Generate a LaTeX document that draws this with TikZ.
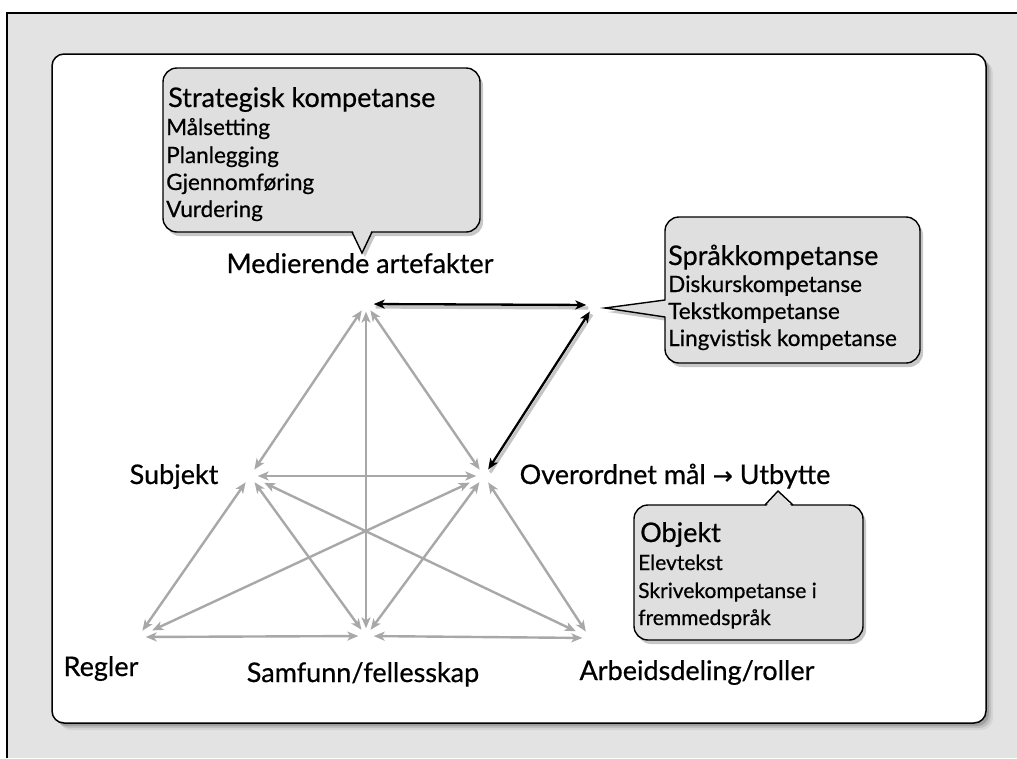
\documentclass[tikz,border=0pt]{standalone}
\usepackage{fontspec}
\setmainfont{Lato}[FakeBold=0.6]
\newfontfamily\symbolfont{DejaVu Sans}[FakeBold=0.8]
\usetikzlibrary{arrows.meta}
\definecolor{bggray}{RGB}{227,227,227}
\definecolor{boxgray}{RGB}{223,223,223}
\definecolor{edgegray}{RGB}{168,168,168}
\begin{document}
\begin{tikzpicture}[x=1pt,y=-1pt,
  vertex/.style={circle,inner sep=0pt,minimum size=15pt},
  relation/.style={draw=edgegray,line width=2.4pt,{Stealth[length=11pt,width=9pt,inset=3pt]}-{Stealth[length=11pt,width=9pt,inset=3pt]}},
  longrel/.style={relation,shorten <=8pt,shorten >=8pt},
  keylink/.style={draw=black,line width=2.3pt,{Stealth[length=11pt,width=9pt,inset=3pt]}-{Stealth[length=11pt,width=9pt,inset=3pt]}},
  keyshadow/.style={draw=black!45,opacity=0.5,line width=3.2pt,transform canvas={xshift=2pt,yshift=-3pt}},
  vlabel/.style={inner sep=0pt,anchor=base,font=\fontsize{27}{31}\selectfont},
  headtext/.style={inner sep=0pt,anchor=base west,font=\fontsize{27}{31}\selectfont},
  itemtext/.style={inner sep=0pt,anchor=base west,font=\fontsize{22.5}{27}\selectfont},
  smallitem/.style={inner sep=0pt,anchor=base west,font=\fontsize{21}{25}\selectfont},
  callbox/.style={draw=black,line width=1.4pt,fill=boxgray,rounded corners=14pt},
  callshadow/.style={fill=black,opacity=0.22,rounded corners=14pt},
  pointerline/.style={draw=black,line width=1.4pt,line join=miter},
]
\useasboundingbox (0,0) rectangle (1017,758);

% page background with its frame
\fill[bggray] (7,13) rectangle (1017,758);
\draw[black,line width=1.2pt] (7,758) -- (7,13) -- (1017,13);

% white panel with soft shadow
\foreach \d/\o in {7/0.06,5/0.10,3/0.16}
  \fill[black,opacity=\o,rounded corners=12pt,xshift=\d pt,yshift=-\d pt] (52,54) rectangle (986,723);
\draw[black,line width=1.5pt,fill=white,rounded corners=12pt] (52,54) rectangle (986,723);

% ---- callout: strategic competence
\fill[callshadow,xshift=3pt,yshift=-4pt] (163,68) rectangle (480,232);
\fill[black,opacity=0.22,xshift=3pt,yshift=-4pt] (352,232) -- (362,253) -- (372,232) -- cycle;
\draw[callbox] (163,68) rectangle (480,232);
\fill[boxgray] (352,229) -- (362,253) -- (372,229) -- cycle;
\draw[pointerline] (352,232) -- (362,253) -- (372,232);
\node[headtext] (strathead) at (168,107) {Strategisk kompetanse};
\node[itemtext] (strat1) at (166,135) {Målsetting};
\node[itemtext] (strat2) at (166,163) {Planlegging};
\node[itemtext] (strat3) at (166,190) {Gjennomføring};
\node[itemtext] (strat4) at (166,217) {Vurdering};

% ---- callout: language competence
\fill[callshadow,xshift=3pt,yshift=-4pt] (665,217) rectangle (920,363);
\fill[black,opacity=0.22,xshift=3pt,yshift=-4pt] (665,300) -- (605,308) -- (665,317) -- cycle;
\draw[callbox] (665,217) rectangle (920,363);
\fill[boxgray] (668,300) -- (605,308) -- (668,317) -- cycle;
\draw[pointerline] (665,300) -- (605,308) -- (665,317);
\node[headtext] (sprakhead) at (668,265) {Språkkompetanse};
\node[itemtext] (sprak1) at (668,292) {Diskurskompetanse};
\node[itemtext] (sprak2) at (668,319) {Tekstkompetanse};
\node[itemtext] (sprak3) at (668,346) {Lingvistisk kompetanse};

% ---- callout: object
\fill[callshadow,xshift=3pt,yshift=-4pt] (634,505) rectangle (863,640);
\draw[callbox] (634,505) rectangle (863,640);
\fill[boxgray] (765,508) -- (778,491) -- (793,508) -- cycle;
\draw[pointerline] (765,505) -- (778,491) -- (793,505);
\node[headtext] (objhead) at (640,542) {Objekt};
\node[smallitem] (obj1) at (638,570) {Elevtekst};
\node[smallitem] (obj2) at (638,598) {Skrivekompetanse i};
\node[smallitem] (obj3) at (638,625) {fremmedspråk};

% ---- activity system vertices
\node[vertex] (M) at (366,304) {};
\node[vertex] (S) at (250,476) {};
\node[vertex] (O) at (484,476) {};
\node[vertex] (R) at (138,637) {};
\node[vertex] (C) at (366,636) {};
\node[vertex] (A) at (590,638) {};
\node[vertex] (P) at (594,305) {};

% ---- grey relations
\draw[relation] (M) -- (S);
\draw[relation] (M) -- (O);
\draw[relation] (M) -- (C);
\draw[relation] (S) -- (O);
\draw[relation] (S) -- (R);
\draw[relation] (S) -- (C);
\draw[longrel] (S) -- (A);
\draw[longrel] (O) -- (R);
\draw[relation] (O) -- (C);
\draw[relation] (O) -- (A);
\draw[relation] (R) -- (C);
\draw[relation] (C) -- (A);

% ---- black links to language competence
\draw[keyshadow] (M) -- (P);
\draw[keyshadow] (P) -- (O);
\draw[keylink] (M) -- (P);
\draw[keylink] (P) -- (O);

% ---- vertex labels
\node[vlabel] (lblM) at (360,273) {Medierende artefakter};
\node[vlabel] (lblS) at (174,484) {Subjekt};
\node[vlabel] (lblO) at (675,484) {Overordnet mål {\symbolfont\fontsize{24}{28}\selectfont →} Utbytte};
\node[vlabel] (lblR) at (101,676) {Regler};
\node[vlabel] (lblC) at (363,682) {Samfunn/fellesskap};
\node[vlabel] (lblA) at (697,680) {Arbeidsdeling/roller};
\end{tikzpicture}
\end{document}
